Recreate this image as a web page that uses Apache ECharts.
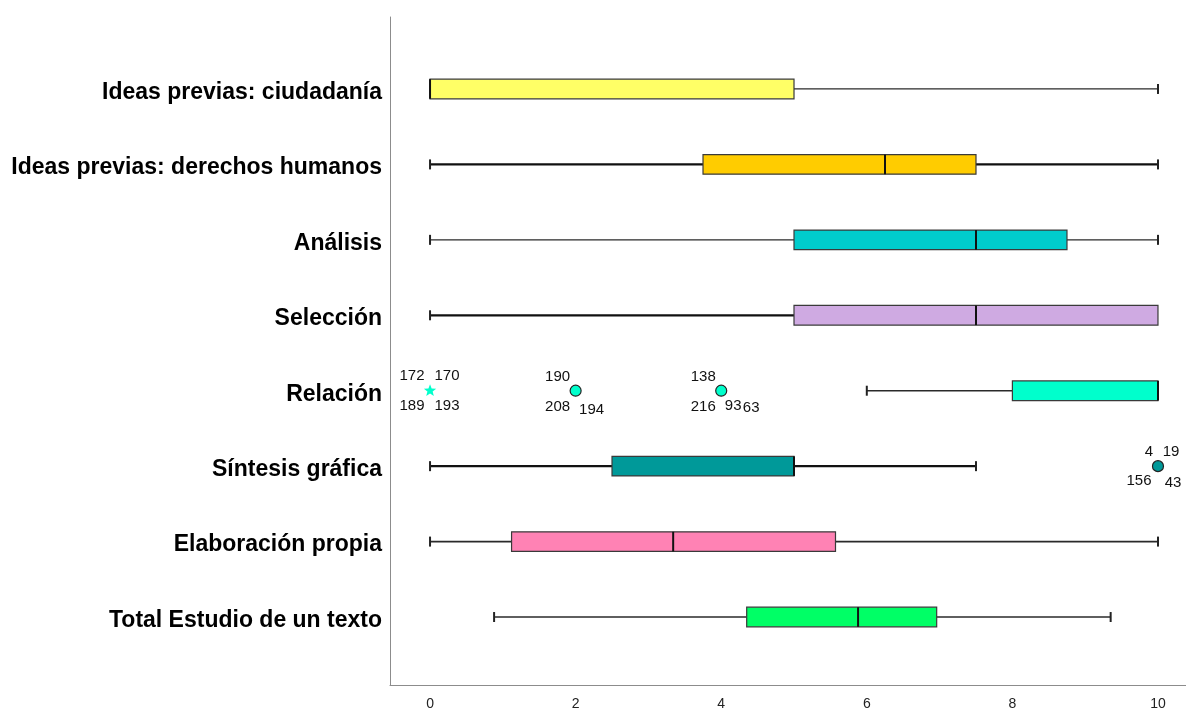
<!DOCTYPE html>
<html>
<head>
<meta charset="utf-8">
<style>
  html, body { margin: 0; padding: 0; background: #ffffff; }
  #chart { width: 1186px; height: 708px; }
</style>
<script src="https://cdn.jsdelivr.net/npm/echarts@6/dist/echarts.min.js"></script>
</head>
<body>
<div id="chart"></div>
<script>
// ---- data ----
const categories = [
  'Ideas previas: ciudadanía',
  'Ideas previas: derechos humanos',
  'Análisis',
  'Selección',
  'Relación',
  'Síntesis gráfica',
  'Elaboración propia',
  'Total Estudio de un texto'
];
const minVals = [0, 0, 0, 0, 6, 0, 0, 0.88];
const q1Vals  = [0, 3.75, 5, 5, 8, 2.5, 1.12, 4.35];
const medVals = [0, 6.25, 7.5, 7.5, 10, 5, 3.34, 5.88];
const q3Vals  = [5, 7.5, 8.75, 10, 10, 5, 5.57, 6.96];
const maxVals = [10, 10, 10, 10, 10, 7.5, 10, 9.35];

const outlierCats = [4, 4, 4, 5];
const outlierVals = [0, 2, 4, 10];
const outlierKinds = ['extreme', 'outlier', 'outlier', 'outlier'];
const outlierIds = [
  ['172', '170', '189', '193'],
  ['190', '208', '194'],
  ['138', '216', '93', '63'],
  ['4', '19', '156', '43']
];
const xTicks = [0, 2, 4, 6, 8, 10];

// ---- styles ----
const boxColors = ['#FFFF66', '#FFCC00', '#00CCCC', '#CFAAE2', '#00FFCC', '#009999', '#FF82B4', '#00FF66'];
const whiskerWidths = [1.2, 2.2, 1.2, 2.2, 1.6, 2.2, 1.6, 1.6];
const outlierLabelOffsets = [
  [[-18, -15], [17, -15], [-18, 15], [17, 15]],
  [[-18, -14], [-18, 16], [16, 19]],
  [[-18, -14], [-18, 16], [12, 15], [30, 17]],
  [[-9, -14], [13, -14], [-19, 15], [15, 17]]
];

const FONT = "'Liberation Sans', Arial, sans-serif";

const boxData = categories.map((c, i) => [i, minVals[i], q1Vals[i], medVals[i], q3Vals[i], maxVals[i]]);
const outData = outlierCats.map((c, k) => [outlierVals[k], c, k]);

const starPath = (cx, cy, R) => {
  const r = R * 0.42;
  let d = '';
  for (let j = 0; j < 10; j++) {
    const ang = -Math.PI / 2 + j * Math.PI / 5;
    const rr = j % 2 === 0 ? R : r;
    d += (j === 0 ? 'M' : 'L') + (cx + rr * Math.cos(ang)).toFixed(2) + ' ' + (cy + rr * Math.sin(ang)).toFixed(2) + ' ';
  }
  return d + 'Z';
};

const chart = echarts.init(document.getElementById('chart'));
chart.setOption({
  backgroundColor: '#ffffff',
  animation: false,
  grid: [
    { left: 390, right: 0, top: 17, bottom: 23, outerBoundsMode: 'none', containLabel: false },
    { left: 390, right: 0, top: 51.25, bottom: 53.25, outerBoundsMode: 'none', containLabel: false }
  ],
  xAxis: [
    {
      gridIndex: 0, type: 'value', min: -0.55, max: 10.385,
      axisLine: { show: true, onZero: false, lineStyle: { color: '#8c8c8c', width: 1 } },
      axisTick: { show: false },
      splitLine: { show: false },
      axisLabel: {
        show: true, margin: 12, color: '#222', fontFamily: FONT, fontSize: 14,
        showMinLabel: false, showMaxLabel: false,
        formatter: v => xTicks.indexOf(Math.round(v * 1000) / 1000) >= 0 ? String(Math.round(v)) : ''
      }
    },
    {
      gridIndex: 1, type: 'value', min: -0.55, max: 10.385, show: false
    }
  ],
  yAxis: [
    {
      gridIndex: 0, type: 'value', min: 0, max: 1,
      axisLine: { show: true, onZero: false, lineStyle: { color: '#8c8c8c', width: 1 } },
      axisTick: { show: false }, axisLabel: { show: false }, splitLine: { show: false }
    },
    {
      gridIndex: 1, type: 'category', inverse: true, data: categories,
      axisLine: { show: false }, axisTick: { show: false }, splitLine: { show: false },
      axisLabel: {
        margin: 8,
        formatter: v => '{c|' + v + '}',
        rich: { c: { color: '#000', fontWeight: 'bold', fontSize: 23, fontFamily: FONT, padding: [7, 0, 0, 0] } }
      }
    }
  ],
  series: [
    {
      type: 'custom',
      xAxisIndex: 1, yAxisIndex: 1,
      data: boxData,
      encode: { x: [1, 2, 3, 4, 5], y: 0 },
      renderItem: (params, api) => {
        const i = api.value(0);
        const vmin = api.value(1), q1 = api.value(2), med = api.value(3), q3 = api.value(4), vmax = api.value(5);
        const yc = api.coord([0, i])[1];
        const band = api.size([0, 1])[1];
        const half = band * 0.13;
        const capHalf = 5;
        const px = v => api.coord([v, i])[0];
        const ww = whiskerWidths[i];
        const wc = ww > 2 ? '#111' : '#2a2a2a';
        const ch = [];
        if (vmin < q1) {
          ch.push({ type: 'line', shape: { x1: px(vmin), y1: yc, x2: px(q1), y2: yc }, style: { stroke: wc, lineWidth: ww } });
          ch.push({ type: 'line', shape: { x1: px(vmin), y1: yc - capHalf, x2: px(vmin), y2: yc + capHalf }, style: { stroke: '#222', lineWidth: 2 } });
        }
        if (vmax > q3) {
          ch.push({ type: 'line', shape: { x1: px(q3), y1: yc, x2: px(vmax), y2: yc }, style: { stroke: wc, lineWidth: ww } });
          ch.push({ type: 'line', shape: { x1: px(vmax), y1: yc - capHalf, x2: px(vmax), y2: yc + capHalf }, style: { stroke: '#222', lineWidth: 2 } });
        }
        ch.push({
          type: 'rect',
          shape: { x: px(q1), y: yc - half, width: px(q3) - px(q1), height: half * 2 },
          style: { fill: boxColors[i], stroke: '#3a3a3a', lineWidth: 1.2 }
        });
        ch.push({ type: 'line', shape: { x1: px(med), y1: yc - half, x2: px(med), y2: yc + half }, style: { stroke: '#111', lineWidth: 2 } });
        return { type: 'group', children: ch };
      },
      z: 2
    },
    {
      type: 'custom',
      xAxisIndex: 1, yAxisIndex: 1,
      data: outData,
      encode: { x: 0, y: 1 },
      renderItem: (params, api) => {
        const k = api.value(2);
        const cat = api.value(1);
        const p = api.coord([api.value(0), cat]);
        const ch = [];
        if (outlierKinds[k] === 'extreme') {
          ch.push({ type: 'path', shape: { pathData: starPath(p[0], p[1], 6.5) }, style: { fill: boxColors[cat], stroke: null } });
        } else {
          ch.push({ type: 'circle', shape: { cx: p[0], cy: p[1], r: 5.5 }, style: { fill: boxColors[cat], stroke: '#222', lineWidth: 1.2 } });
        }
        outlierIds[k].forEach((t, j) => {
          const o = outlierLabelOffsets[k][j];
          ch.push({
            type: 'text',
            style: { text: t, x: p[0] + o[0], y: p[1] + o[1], fill: '#111', font: '15px ' + FONT, align: 'center', verticalAlign: 'middle' }
          });
        });
        return { type: 'group', children: ch };
      },
      z: 3
    }
  ]
});
</script>
</body>
</html>
